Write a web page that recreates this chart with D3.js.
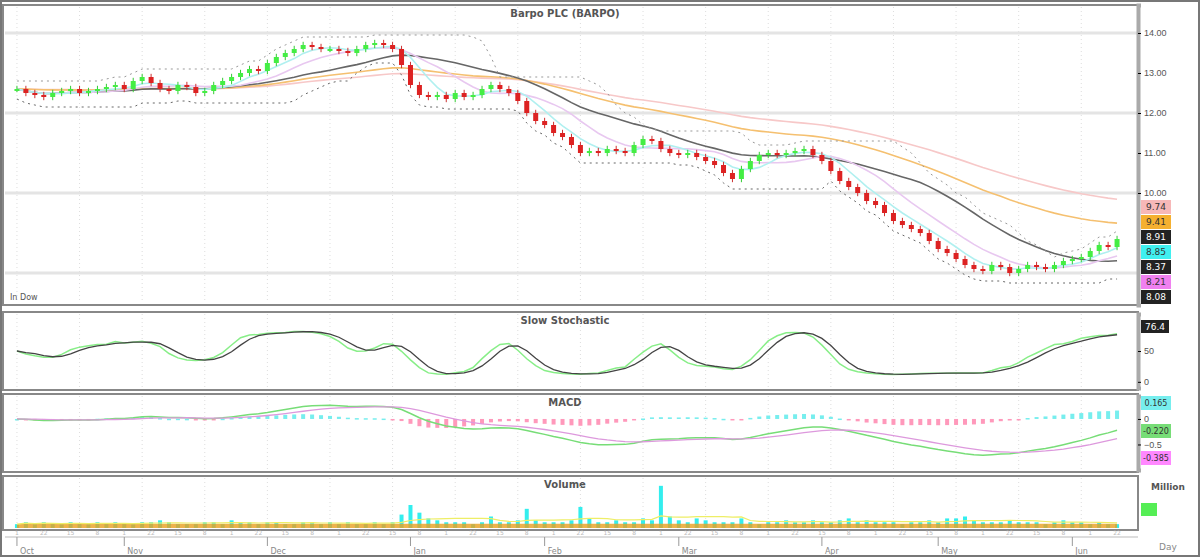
<!DOCTYPE html>
<html><head><meta charset="utf-8">
<script src="https://cdn.jsdelivr.net/npm/d3@7"></script>
<style>body{margin:0;background:#fff;font-family:"DejaVu Sans",sans-serif}</style>
</head><body><div id="chart"></div>
<script>
// daily closes
const closes = [12.6,12.5,12.45,12.4,12.5,12.55,12.6,12.5,12.55,12.6,
  12.65,12.7,12.6,12.8,12.9,12.75,12.6,12.55,12.7,12.65,
  12.5,12.55,12.7,12.8,12.9,13.0,13.1,13.05,13.25,13.4,
  13.5,13.6,13.7,13.65,13.6,13.6,13.55,13.5,13.6,13.7,
  13.75,13.7,13.6,13.2,12.7,12.45,12.4,12.45,12.35,12.5,
  12.4,12.45,12.6,12.7,12.6,12.5,12.3,12.0,11.8,11.7,
  11.5,11.4,11.2,11.0,11.05,11.0,11.1,11.05,11.0,11.2,
  11.35,11.3,11.1,11.0,10.95,11.0,10.9,10.8,10.7,10.5,
  10.35,10.6,10.8,10.95,11.0,10.95,11.0,11.05,11.1,10.95,
  10.8,10.55,10.3,10.15,10.0,9.8,9.7,9.5,9.3,9.2,
  9.1,9.0,8.8,8.6,8.5,8.35,8.2,8.1,8.05,8.2,
  8.15,8.0,8.1,8.2,8.15,8.1,8.2,8.3,8.35,8.4,
  8.55,8.7,8.65,8.85];
const volumes = [2,3,2,3,2,2,3,2,2,3, 2,3,2,2,3,3,4,3,2,2, 2,3,3,2,4,3,3,2,3,3,
  2,2,3,3,2,3,2,3,2,2, 3,2,3,7,12,8,5,4,3,3, 3,2,3,6,3,3,4,10,4,3,
  3,3,4,11,5,3,3,4,3,3, 5,4,22,6,4,3,5,4,3,3, 3,5,3,2,3,3,4,3,3,4,
  3,3,4,5,3,4,3,3,3,2, 3,3,4,3,5,5,6,4,3,3, 3,4,3,3,3,2,3,4,3,3, 2,3,2,2];
const months = ["Oct","Nov","Dec","Jan","Feb","Mar","Apr","May","Jun"];
const monthIdx = [0,12,28,44,59,74,90,103,118];
const priceTicks = [14,13,12,11,10];
const maLabels = [
  {v:"9.74",c:"#f7b8b8"},{v:"9.41",c:"#f5b030"},{v:"8.91",c:"#222"},
  {v:"8.85",c:"#40f0f0"},{v:"8.37",c:"#222"},{v:"8.21",c:"#f080f0"},{v:"8.08",c:"#222"}];

const W=1200,H=557, L=8, R=1138;
const svg=d3.select("#chart").append("svg").attr("width",W).attr("height",H);
const n=closes.length;
const x=d3.scaleLinear().domain([-1,n]).range([L,R-12]);
const bars=closes.map((c,i)=>{const o=i?closes[i-1]:c;
  return {i,o,c,h:Math.max(o,c)+0.08,l:Math.min(o,c)-0.08};});

const ema=(arr,p)=>{const k=2/(p+1);let e=arr[0];return arr.map(v=>e=v*k+e*(1-k));};
const sma=(arr,p)=>arr.map((v,i)=>d3.mean(arr.slice(Math.max(0,i-p+1),i+1)));

function panel(y0,y1,title){
  svg.append("rect").attr("x",3).attr("y",y0).attr("width",R-3).attr("height",y1-y0)
    .attr("fill","#fff").attr("stroke","#888").attr("stroke-width",2);
  svg.append("text").attr("x",565).attr("y",y0+12).attr("text-anchor","middle")
    .attr("font-size",10).attr("font-weight","bold").attr("fill","#555").text(title);
  d3.range(0,n,7).forEach(i=>svg.append("line").attr("x1",x(i)).attr("x2",x(i))
    .attr("y1",y0+2).attr("y2",y1-2).attr("stroke","#ddd").attr("stroke-dasharray","1,3"));
}
svg.append("rect").attr("x",1).attr("y",1).attr("width",W-2).attr("height",H-2)
  .attr("fill","none").attr("stroke","#777").attr("stroke-width",2);
const axisStyle=g=>g.call(g=>g.selectAll("text").attr("font-size",9).attr("fill","#555"))
  .call(g=>g.select(".domain").attr("stroke","#aaa").attr("stroke-width",4));

// price panel
panel(5,305,"Barpo PLC (BARPO)");
const y=d3.scaleLinear().domain([7.2,14.7]).range([305,5]);
[14,12,10,8].forEach(v=>svg.append("line").attr("x1",5).attr("x2",R).attr("y1",y(v)).attr("y2",y(v))
  .attr("stroke","#e4e4e4").attr("stroke-width",3));
svg.append("g").attr("transform",`translate(${R},0)`)
  .call(d3.axisRight(y).tickValues(priceTicks).tickFormat(d3.format(".2f")).tickSize(3)).call(axisStyle);
const line=(yy)=>d3.line().x((d,i)=>x(i)).y(d=>yy(d));
const mas=[{d:ema(closes,70),c:"#f7c8c8"},{d:ema(closes,45),c:"#f5c070"},
  {d:sma(closes,20),c:"#666"},{d:sma(closes,10),c:"#e8c8f0"},{d:sma(closes,5),c:"#b0f0f0"}];
mas.forEach(m=>svg.append("path").attr("d",line(y)(m.d)).attr("fill","none")
  .attr("stroke",m.c).attr("stroke-width",1.6));
// channel dots
const lo=closes.map((c,i)=>d3.min(closes.slice(Math.max(0,i-10),i+1))-0.25);
svg.append("path").attr("d",line(y)(lo)).attr("fill","none").attr("stroke","#666").attr("stroke-dasharray","2,4");
const hi=closes.map((c,i)=>d3.max(closes.slice(Math.max(0,i-10),i+1))+0.2);
svg.append("path").attr("d",line(y)(hi)).attr("fill","none").attr("stroke","#999").attr("stroke-dasharray","2,4");
const cg=svg.append("g");
cg.selectAll("line").data(bars).join("line").attr("x1",d=>x(d.i)).attr("x2",d=>x(d.i))
  .attr("y1",d=>y(d.h)).attr("y2",d=>y(d.l)).attr("stroke",d=>d.c>=d.o?"#3c3":"#c33");
cg.selectAll("rect").data(bars).join("rect").attr("x",d=>x(d.i)-2.5).attr("width",5)
  .attr("y",d=>y(Math.max(d.o,d.c))).attr("height",d=>Math.max(2,Math.abs(y(d.o)-y(d.c))))
  .attr("fill",d=>d.c>=d.o?"#4e4":"#d22");
maLabels.forEach((m,k)=>{const yy=207+k*15;
  svg.append("rect").attr("x",R+3).attr("y",yy-7).attr("width",30).attr("height",14).attr("fill",m.c);
  svg.append("text").attr("x",R+18).attr("y",yy+3).attr("text-anchor","middle").attr("font-size",9)
    .attr("fill",m.c==="#222"?"#fff":"#333").text(m.v);});
svg.append("text").attr("x",10).attr("y",300).attr("font-size",8).attr("fill","#555").text("In Dow");

// stochastic
panel(312,390,"Slow Stochastic");
const ys=d3.scaleLinear().domain([-10,110]).range([388,314]);
const k=closes.map((c,i)=>{const w=closes.slice(Math.max(0,i-7),i+1);
  const a=d3.min(w)-0.2,b=d3.max(w)+0.2;return 100*(c-a)/(b-a);});
const ks=sma(k,4), ds=sma(ks,3);
svg.append("path").attr("d",line(ys)(ks)).attr("fill","none").attr("stroke","#8e8").attr("stroke-width",1.5);
svg.append("path").attr("d",line(ys)(ds)).attr("fill","none").attr("stroke","#444").attr("stroke-width",1.3);
svg.append("g").attr("transform",`translate(${R},0)`)
  .call(d3.axisRight(ys).tickValues([0,50]).tickSize(3)).call(axisStyle);
svg.append("rect").attr("x",R+3).attr("y",320).attr("width",28).attr("height",13).attr("fill","#222");
svg.append("text").attr("x",R+17).attr("y",330).attr("text-anchor","middle").attr("font-size",9).attr("fill","#fff").text(ds[n-1].toFixed(1));

// MACD
panel(394,472,"MACD");
const e26=ema(closes,26);
const macd=ema(closes,12).map((v,i)=>v-e26[i]);
const sig=ema(macd,9);
const ym=d3.scaleLinear().domain([-1.0,0.45]).range([470,396]);
svg.append("g").selectAll("rect").data(macd).join("rect")
  .attr("x",(d,i)=>x(i)-2).attr("width",4)
  .attr("y",(d,i)=>ym(Math.max(0,d-sig[i]))).attr("height",(d,i)=>Math.max(1.5,Math.abs(ym(d-sig[i])-ym(0))))
  .attr("fill",(d,i)=>d-sig[i]>=0?"#7ee":"#f9b");
svg.append("path").attr("d",line(ym)(macd)).attr("fill","none").attr("stroke","#7d7").attr("stroke-width",1.5);
svg.append("path").attr("d",line(ym)(sig)).attr("fill","none").attr("stroke","#d9d").attr("stroke-width",1.3);
svg.append("g").attr("transform",`translate(${R},0)`)
  .call(d3.axisRight(ym).tickValues([0,-0.5]).tickSize(3).tickFormat(d3.format(""))).call(axisStyle);
[[macd[n-1]-sig[n-1],"#7ee",403],[macd[n-1],"#7d7",431],[sig[n-1],"#f8f",458]].forEach(([v,c,yy])=>{
  svg.append("rect").attr("x",R+3).attr("y",yy-7).attr("width",30).attr("height",14).attr("fill",c);
  svg.append("text").attr("x",R+18).attr("y",yy+3).attr("text-anchor","middle").attr("font-size",8).attr("fill","#333").text(v.toFixed(3));});

// volume
panel(476,530,"Volume");
const yv=d3.scaleLinear().domain([0,24]).range([528,482]);
svg.append("g").selectAll("rect").data(volumes).join("rect")
  .attr("x",(d,i)=>x(i)-2).attr("width",4).attr("y",d=>yv(d)).attr("height",d=>yv(0)-yv(d)).attr("fill","#3ee");
const vma=sma(volumes,10);
svg.append("path").attr("d",d3.area().x((d,i)=>x(i)).y0(yv(0)).y1(d=>yv(Math.min(d,2.2)))(vma)).attr("fill","#e9a020").attr("opacity",0.8);
svg.append("path").attr("d",line(yv)(vma)).attr("fill","none").attr("stroke","#ee6").attr("stroke-width",1.2);
svg.append("text").attr("x",R+30).attr("y",490).attr("text-anchor","middle").attr("font-size",9).attr("font-weight","bold").attr("fill","#555").text("Million");
svg.append("rect").attr("x",R+3).attr("y",503).attr("width",16).attr("height",13).attr("fill","#5e5");

// date axis
svg.append("line").attr("x1",5).attr("x2",R).attr("y1",537).attr("y2",537).attr("stroke","#bbb");
d3.range(0,n,3).forEach(i=>svg.append("text").attr("x",x(i)).attr("y",535).attr("font-size",6)
  .attr("text-anchor","middle").attr("fill","#bbb").text(String(1+(i*7)%28)));
months.forEach((m,k)=>{svg.append("line").attr("x1",x(monthIdx[k])).attr("x2",x(monthIdx[k])).attr("y1",537).attr("y2",546).attr("stroke","#999");
  svg.append("text").attr("x",x(monthIdx[k])+3).attr("y",554).attr("font-size",8).attr("fill","#888").text(m);});
svg.append("text").attr("x",R+30).attr("y",550).attr("text-anchor","middle").attr("font-size",9).attr("fill","#888").text("Day");
</script></body></html>
